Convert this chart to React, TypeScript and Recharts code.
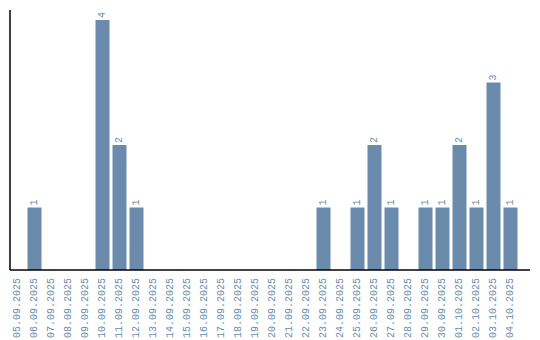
import React from "react";
import { BarChart, Bar, XAxis, YAxis, LabelList } from "recharts";

const dates = [
  "05.09.2025", "06.09.2025", "07.09.2025", "08.09.2025", "09.09.2025",
  "10.09.2025", "11.09.2025", "12.09.2025", "13.09.2025", "14.09.2025",
  "15.09.2025", "16.09.2025", "17.09.2025", "18.09.2025", "19.09.2025",
  "20.09.2025", "21.09.2025", "22.09.2025", "23.09.2025", "24.09.2025",
  "25.09.2025", "26.09.2025", "27.09.2025", "28.09.2025", "29.09.2025",
  "30.09.2025", "01.10.2025", "02.10.2025", "03.10.2025", "04.10.2025",
];
const counts = [
  0, 1, 0, 0, 0,
  4, 2, 1, 0, 0,
  0, 0, 0, 0, 0,
  0, 0, 0, 1, 0,
  1, 2, 1, 0, 1,
  1, 2, 1, 3, 1,
];

const data = dates.map((d, i) => ({ date: d, count: counts[i] }));

const COLOR = "#6a8bab";
const FONT = "'Liberation Mono', monospace";

const Tick = (props: any) => {
  const { x, y, payload } = props;
  const ty = y;
  return (
    <text
      x={x}
      y={ty}
      transform={`rotate(-90, ${x}, ${ty})`}
      textAnchor="end"
      dominantBaseline="central"
      fill={COLOR}
      fontFamily={FONT}
      fontSize={10}
    >
      {payload.value}
    </text>
  );
};

const BarLabel = (props: any) => {
  const { x, y, width, value } = props;
  if (!value) return null;
  const cx = x + width / 2;
  const ty = y - 2;
  return (
    <text
      x={cx}
      y={ty}
      transform={`rotate(-90, ${cx}, ${ty})`}
      textAnchor="start"
      dominantBaseline="central"
      fill={COLOR}
      fontFamily={FONT}
      fontSize={10}
    >
      {value}
    </text>
  );
};

export default function App() {
  return (
    <div style={{ position: "absolute", left: 0, top: 0 }}>
      <BarChart
        width={540}
        height={340}
        data={data}
        margin={{ top: 10, right: 10, bottom: 0, left: 9 }}
      >
        <XAxis
          dataKey="date"
          interval={0}
          height={70}
          tickLine={false}
          axisLine={{ stroke: "#000", strokeWidth: 1.5 }}
          tick={<Tick />}
          padding={{ left: -1.5, right: 11.5 }}
        />
        <YAxis
          width={1}
          domain={[0, 4]}
          tick={false}
          tickLine={false}
          axisLine={{ stroke: "#000", strokeWidth: 1.5 }}
          padding={{ top: 10, bottom: 0 }}
        />
        <Bar dataKey="count" fill={COLOR} barSize={14} isAnimationActive={false}>
          <LabelList dataKey="count" content={<BarLabel />} />
        </Bar>
      </BarChart>
    </div>
  );
}
